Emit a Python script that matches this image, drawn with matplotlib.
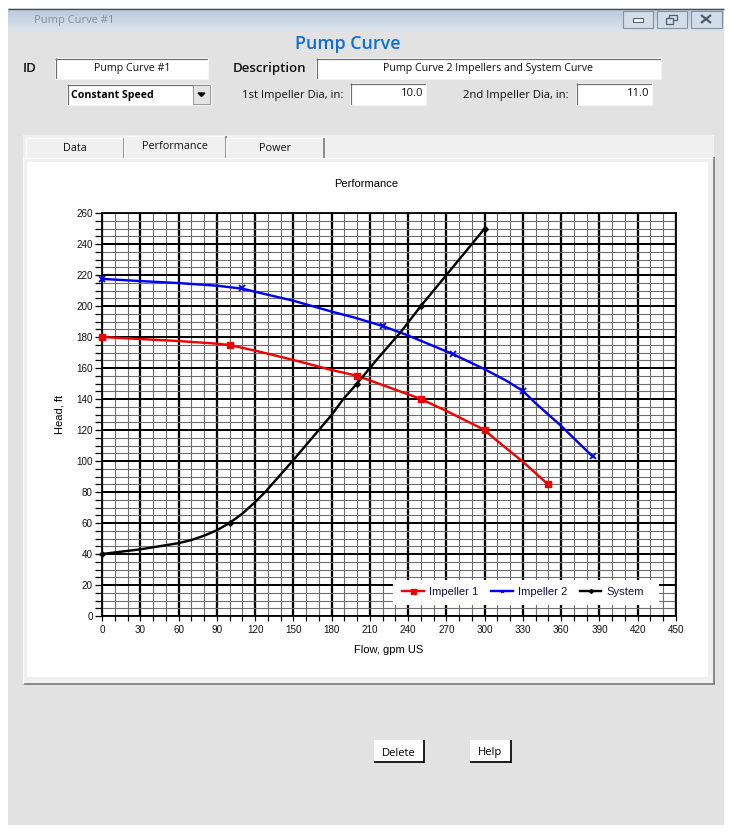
import numpy as np
import matplotlib
matplotlib.use("Agg")
import matplotlib.pyplot as plt
from matplotlib.patches import Rectangle, Polygon
from matplotlib.lines import Line2D

# ---- chart data ----
imp1_flow = [0, 30, 60, 90, 100, 120, 150, 180, 200, 250, 270, 300, 309, 330, 350]
imp1_head = [180, 178.7, 177.4, 175.7, 174.8, 171.2, 165.2, 158.7, 155, 140, 132.3, 120, 113.5, 99.5, 84.7]
imp1_pump_flow = [0, 100, 200, 250, 300, 350]
imp1_pump_head = [180, 175, 155, 140, 120, 85]

imp2_flow = [0, 30, 60, 90, 110, 120, 150, 180, 198, 220, 239, 275, 300, 317, 330, 340, 360, 385]
imp2_head = [217.5, 216.1, 214.8, 213.1, 211.2, 209.2, 203.4, 196.4, 192.5, 187.1, 181.3, 169,
             159.2, 151.8, 145.2, 137.2, 122.6, 102.6]
imp2_pump_flow = [0, 110, 220, 275, 330, 385]
imp2_pump_head = [217.5, 211.5, 187, 169, 145, 103]

sys_flow = [0, 30, 60, 70, 80, 90, 100, 110, 120, 128, 150, 170, 180, 189, 200, 215, 234, 250, 275, 300]
sys_head = [40, 43, 47, 49, 51.8, 55.3, 60, 66, 73.5, 80, 100.6, 120, 129.7, 139.8, 150, 165, 183, 200, 225, 250]
sys_pump_flow = [0, 100, 200, 250, 300]
sys_pump_head = [40, 60, 150, 200, 250]

x_ticks = list(range(0, 451, 30))
y_ticks = list(range(0, 261, 20))
x_minor = list(range(0, 451, 10))
y_minor = list(range(0, 261, 5))

W, H = 732, 833
UI = "Open Sans"
CH = "Liberation Sans"
px = 0.72  # one pixel in points at dpi 100

fig = plt.figure(figsize=(W / 100, H / 100), dpi=100, facecolor="white")
bg = fig.add_axes([0, 0, 1, 1])
bg.set_xlim(0, W)
bg.set_ylim(H, 0)
bg.axis("off")


def rect(x0, y0, x1, y1, fc, ec="none", lw=0, z=1):
    bg.add_patch(Rectangle((x0, y0), x1 - x0, y1 - y0, facecolor=fc, edgecolor=ec, linewidth=lw, zorder=z))


def seg(xs, ys, c, lw=1.0, z=3):
    bg.add_line(Line2D(xs, ys, color=c, linewidth=lw * px, zorder=z, solid_capstyle="butt"))


def sunken(x0, y0, x1, y1):
    rect(x0, y0, x1, y1, "white", z=2)
    seg([x0, x1], [y0 + .5, y0 + .5], "#6d6d6d", 1.2)
    seg([x0 + .5, x0 + .5], [y0, y1], "#6d6d6d", 1.2)
    seg([x0, x1], [y1, y1], "#f4f4f4", 1.2)
    seg([x1, x1], [y0, y1], "#f4f4f4", 1.2)


def txt(x, y, s, size, ha="center", color="#101010", weight="normal", family=UI, rot=0, z=6):
    bg.text(x, y, s, fontsize=size, ha=ha, va="center", color=color, fontweight=weight,
            family=family, rotation=rot, zorder=z)


# window
rect(8, 8, 724, 825, "#e2e2e2")
grad = np.linspace(0, 1, 32)[:, None]
top = np.array([0.72, 0.79, 0.86])
bot = np.array([0.86, 0.89, 0.93])
bg.imshow((top + (bot - top) * grad)[:, None, :].squeeze()[:, None, :], extent=(8, 724, 31, 9),
          aspect="auto", zorder=1.5)
bg.set_xlim(0, W)
bg.set_ylim(H, 0)
seg([8, 724], [8.5, 8.5], "#4a4f55", 1.3)
txt(34, 20, "Pump Curve #1", 8.0, ha="left", color="#8a8f95")

# window buttons
for x0, x1 in [(623, 653), (657, 687), (691, 722)]:
    rect(x0, 11, x1, 27.5, "#d3dde8", ec="#7f93a8", lw=.8, z=2)
rect(633, 18, 643, 22, "#f2f4f6", ec="#4d5b6a", lw=.7, z=3)
rect(669, 15, 677, 20, "none", ec="#4d5b6a", lw=.9, z=3)
rect(666, 18, 673, 24, "#d3dde8", ec="#4d5b6a", lw=.9, z=3)
seg([701, 711], [15, 23], "#4d5b6a", 2.2)
seg([701, 711], [23, 15], "#4d5b6a", 2.2)

# header
txt(347.5, 44, "Pump Curve", 12.9, color="#0f6fd0", weight="semibold")
txt(23, 68, "ID", 9.5, ha="left", weight="semibold")
sunken(55, 58, 208, 79)
txt(132, 68, "Pump Curve #1", 7.7)
txt(233, 68, "Description", 9.5, ha="left", weight="semibold")
sunken(316, 58, 661, 79)
txt(488, 68, "Pump Curve 2 Impellers and System Curve", 7.65)
sunken(67, 84, 211, 105)
txt(71, 95, "Constant Speed", 7.6, ha="left", color="black", weight="bold")
rect(193, 85, 210, 104, "#e4e4e4", ec="#8a8a8a", lw=.6, z=3)
bg.add_patch(Polygon([[198, 93], [205, 93], [201.5, 96.5]], closed=True, color="black", zorder=4))
txt(242, 95, "1st Impeller Dia, in:", 8.1, ha="left")
sunken(350, 83, 426, 105)
txt(423, 93.5, "10.0", 8.1, ha="right")
txt(463, 95, "2nd Impeller Dia, in:", 8.1, ha="left")
sunken(576, 83, 652, 105)
txt(649, 93.5, "11.0", 8.1, ha="right")

# tab control and panel
rect(23, 135, 714, 158, "#f0f0f0")
rect(23, 158, 714, 684, "#f0f0f0")
rect(27, 162, 708, 677, "white", z=1.2)
seg([23, 714.5], [683.5, 683.5], "#6c6c6c", 1.5)
seg([713.5, 713.5], [157, 684], "#6c6c6c", 1.5)
seg([23, 23], [157, 684], "#fafafa", 1.2)
seg([23, 713], [157.5, 157.5], "#fafafa", 1.0)
for x0, x1, y0, label, ly in [(26, 124, 138, "Data", 148), (124, 226, 136, "Performance", 146),
                               (226, 324, 138, "Power", 148)]:
    rect(x0, y0, x1, 158, "#f0f0f0", z=2)
    seg([x0, x1], [y0, y0], "#fafafa", 1.2)
    seg([x0, x0], [y0, 158], "#fafafa", 1.2)
    seg([x1, x1], [y0, 158], "#6c6c6c", 1.5)
    txt((x0 + x1) / 2, ly, label, 7.8)

# buttons
for x0, x1, label, lx, ly in [(374, 424, "Delete", 398.5, 753), (470, 511, "Help", 490, 752)]:
    rect(x0, 740, x1, 762, "white", z=2)
    seg([x0, x1], [762, 762], "black", 1.7)
    seg([x1, x1], [740, 763], "black", 1.7)
    txt(lx, ly, label, 8.0, color="black")

# chart text
txt(366.5, 184, "Performance", 8.05, family=CH, color="black")
txt(59, 414, "Head, ft", 8.05, family=CH, rot=90, color="black")
txt(389, 650, "Flow, gpm US", 8.05, family=CH, color="black")

# chart
L, R, T, B = 102, 676, 213, 616
ax = fig.add_axes([L / W, 1 - B / H, (R - L) / W, (B - T) / H])
ax.set_xlim(0, 450)
ax.set_ylim(0, 260)
ax.patch.set_alpha(0)
ax.set_xticks(x_ticks)
ax.set_yticks(y_ticks)
ax.set_xticks([v for v in x_minor if v not in x_ticks], minor=True)
ax.set_yticks([v for v in y_minor if v not in y_ticks], minor=True)
ax.grid(which="minor", color="#6e6e6e", linewidth=1.1 * px)
ax.grid(which="major", axis="x", color="black", linewidth=2.3 * px)
ax.grid(which="major", axis="y", color="black", linewidth=2.0 * px)
ax.set_axisbelow(True)
ax.tick_params(axis="x", which="both", length=5 * px, width=1.2 * px, color="black",
               labelsize=7.1, pad=3, labelcolor="#101010")
ax.tick_params(axis="y", which="both", length=7 * px, width=1.3 * px, color="black",
               labelsize=7.1, pad=1.5, labelcolor="#101010")
for label in ax.get_xticklabels() + ax.get_yticklabels():
    label.set_family(CH)
for s in ax.spines.values():
    s.set_linewidth(1.8 * px)
    s.set_color("black")

lw = 2.4 * px
RED, BLUE = "#f00000", "#0000f0"
ax.plot(imp1_flow, imp1_head, color=RED, lw=lw, zorder=4, clip_on=False)
ax.plot(imp1_pump_flow, imp1_pump_head, ls="none", marker="s", ms=5, color=RED, zorder=5, clip_on=False)
ax.plot(imp2_flow, imp2_head, color=BLUE, lw=lw, zorder=4, clip_on=False)
ax.plot(imp2_pump_flow, imp2_pump_head, ls="none", marker="x", ms=3.8, mew=1.3, color=BLUE, zorder=5, clip_on=False)
ax.plot(sys_flow, sys_head, color="black", lw=lw, zorder=4, clip_on=False)
ax.plot(sys_pump_flow, sys_pump_head, ls="none", marker="D", ms=2.8, color="black", zorder=5, clip_on=False)

# legend: white backing plus entries
ax.add_patch(Rectangle(((393 - L) / (R - L), (B - 604.5) / (B - T)), (659 - 393) / (R - L), (604.5 - 580) / (B - T),
                       transform=ax.transAxes, facecolor="white", edgecolor="none", zorder=7))
handles = [
    Line2D([], [], color=RED, lw=lw, marker="s", ms=3.6),
    Line2D([], [], color=BLUE, lw=lw, marker="x", ms=2, mew=.9),
    Line2D([], [], color="black", lw=lw, marker="D", ms=2),
]
leg = ax.legend(handles, ["Impeller 1", "Impeller 2", "System"], ncols=3, loc="center",
                bbox_to_anchor=((523 - L) / (R - L), (B - 592) / (B - T)), frameon=False,
                prop={"family": CH, "size": 8.1}, handlelength=1.93, handletextpad=.44, columnspacing=1.14,
                borderaxespad=0, borderpad=0, labelcolor="#101040")
leg.set_zorder(8)

fig.savefig("out.png", dpi=100, facecolor="white")
